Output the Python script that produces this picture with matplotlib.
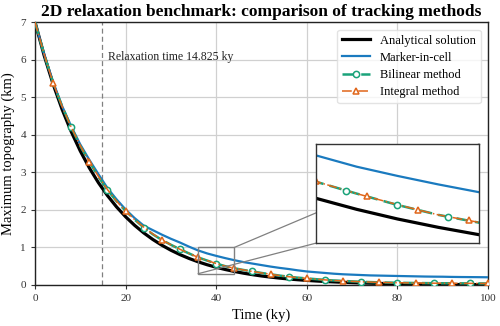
import matplotlib
matplotlib.use("Agg")
import matplotlib.pyplot as plt
import numpy as np
from matplotlib.patches import ConnectionPatch, Rectangle

plt.rcParams['font.family'] = ['Liberation Serif', 'DejaVu Serif']

time_ky = list(range(0, 101, 2))

analytical = [7.000, 6.117, 5.345, 4.670, 4.081, 3.566, 3.116, 2.723, 2.379, 2.079,
              1.816, 1.587, 1.387, 1.212, 1.059, 0.925, 0.809, 0.707, 0.617, 0.539,
              0.471, 0.412, 0.360, 0.315, 0.275, 0.240, 0.210, 0.183, 0.160, 0.140,
              0.122, 0.107, 0.093, 0.082, 0.071, 0.062, 0.054, 0.048, 0.042, 0.036,
              0.032, 0.028, 0.024, 0.021, 0.019, 0.016, 0.014, 0.012, 0.011, 0.009,
              0.008]

marker_in_cell = [7.00, 6.15, 5.40, 4.76, 4.22, 3.74, 3.33, 2.95, 2.58, 2.28,
                  2.01, 1.78, 1.58, 1.46, 1.34, 1.23, 1.13, 1.02, 0.92, 0.84,
                  0.775, 0.715, 0.66, 0.61, 0.57, 0.53, 0.49, 0.455, 0.425, 0.39,
                  0.36, 0.34, 0.32, 0.30, 0.285, 0.275, 0.265, 0.255, 0.25, 0.245,
                  0.24, 0.235, 0.23, 0.225, 0.222, 0.22, 0.215, 0.212, 0.21, 0.208,
                  0.205]

bilinear = [7.00, 6.15, 5.38, 4.75, 4.20, 3.70, 3.28, 2.88, 2.53, 2.23,
            1.97, 1.74, 1.53, 1.35, 1.20, 1.07, 0.95, 0.84, 0.734, 0.65,
            0.57, 0.50, 0.445, 0.40, 0.36, 0.32, 0.285, 0.25, 0.22, 0.195,
            0.175, 0.155, 0.135, 0.12, 0.108, 0.096, 0.085, 0.077, 0.07, 0.064,
            0.06, 0.056, 0.053, 0.05, 0.048, 0.046, 0.045, 0.044, 0.043, 0.042,
            0.041]

integral = [7.00, 6.15, 5.38, 4.75, 4.20, 3.71, 3.28, 2.89, 2.54, 2.23,
            1.97, 1.74, 1.54, 1.36, 1.20, 1.07, 0.95, 0.84, 0.736, 0.65,
            0.572, 0.50, 0.447, 0.40, 0.36, 0.32, 0.285, 0.25, 0.22, 0.196,
            0.175, 0.155, 0.136, 0.12, 0.108, 0.096, 0.086, 0.077, 0.07, 0.064,
            0.06, 0.056, 0.053, 0.05, 0.048, 0.046, 0.045, 0.044, 0.043, 0.042,
            0.041]

relaxation_time = 14.825
zoom_x = (36, 44)
zoom_y = (0.3, 1.0)

C_BLACK = 'black'
C_BLUE = '#1a7abf'
C_GREEN = '#1aa37a'
C_ORANGE = '#e0661a'

fig = plt.figure(figsize=(5.0, 3.26), dpi=100)
ax = fig.add_axes([0.07, 0.1258, 0.906, 0.8067])

GREEN_LS = (0, (5, 2.5))
MS = 4.5

ax.plot(time_ky, analytical, color=C_BLACK, lw=2.3, label='Analytical solution', zorder=3)
ax.plot(time_ky, marker_in_cell, color=C_BLUE, lw=1.6, label='Marker-in-cell', zorder=4)
ax.plot(time_ky, bilinear, color=C_GREEN, lw=1.8, ls=GREEN_LS, marker='o', ms=MS,
        mfc='white', mew=1.1, markevery=(4, 4), label='Bilinear method', zorder=5)
ax.plot(time_ky, integral, color=C_ORANGE, lw=1.1, ls='-.', marker='^', ms=MS,
        mfc='white', mew=1.1, markevery=(2, 4), label='Integral method', zorder=6)

ax.axvline(relaxation_time, color='0.5', lw=0.9, ls=(0, (4, 2.5)), zorder=2)
ax.text(relaxation_time + 1.2, 6.07, 'Relaxation time 14.825 ky', fontsize=8.5,
        va='center', ha='left', color='#222222')

ax.set_xlim(0, 100)
ax.set_ylim(0, 7)
ax.set_xticks([0, 20, 40, 60, 80, 100])
ax.set_yticks(range(0, 8))
ax.grid(True, color='#d0d0d0', lw=0.9, zorder=0)
ax.set_axisbelow(True)
ax.tick_params(labelsize=8, length=3, colors='#333333')
for s in ax.spines.values():
    s.set_color('#222222')
    s.set_linewidth(1.0)
ax.set_xlabel('Time (ky)', fontsize=10.5)
ax.set_ylabel('Maximum topography (km)', fontsize=10.5)
ax.set_title('2D relaxation benchmark: comparison of tracking methods',
             fontsize=12.5, fontweight='bold', pad=4)

leg = ax.legend(loc='upper right', fontsize=9, frameon=True, borderaxespad=0.6,
                handlelength=2.2, labelspacing=0.42)
leg.get_frame().set_edgecolor('#dddddd')

# inset
axins = ax.inset_axes([0.62, 0.159, 0.36, 0.377])
axins.set_zorder(10)
axins.plot(time_ky, analytical, color=C_BLACK, lw=2.3)
axins.plot(time_ky, marker_in_cell, color=C_BLUE, lw=1.6)
axins.plot(time_ky, bilinear, color=C_GREEN, lw=1.8, ls=GREEN_LS)
axins.plot(time_ky, integral, color=C_ORANGE, lw=1.1, ls='-.')
circ_t = np.arange(37.5, 44, 2.5)
tri_t = np.arange(36.0, 44, 2.5)
axins.plot(circ_t, np.interp(circ_t, time_ky, bilinear), ls='none', marker='o', ms=MS,
           mfc='white', mec=C_GREEN, mew=1.1)
axins.plot(tri_t, np.interp(tri_t, time_ky, integral), ls='none', marker='^', ms=MS,
           mfc='white', mec=C_ORANGE, mew=1.1)
axins.set_xlim(*zoom_x)
axins.set_ylim(*zoom_y)
axins.set_xticks([])
axins.set_yticks([])
for s in axins.spines.values():
    s.set_color('#333333')
    s.set_linewidth(1.0)

ax.add_patch(Rectangle((zoom_x[0], zoom_y[0]), zoom_x[1] - zoom_x[0], zoom_y[1] - zoom_y[0],
                       fill=False, ec='0.5', lw=1.0, zorder=7))
for (xa, ya), (xb, yb) in [((zoom_x[1], zoom_y[1]), (1, 1)), ((zoom_x[0], zoom_y[0]), (0, 0))]:
    cp = ConnectionPatch(xyA=(xa, ya), coordsA=ax.transData, xyB=(xb, yb),
                         coordsB=axins.transAxes, color='0.5', lw=0.9, zorder=7)
    ax.add_artist(cp)

fig.savefig('out.png', dpi=100)
